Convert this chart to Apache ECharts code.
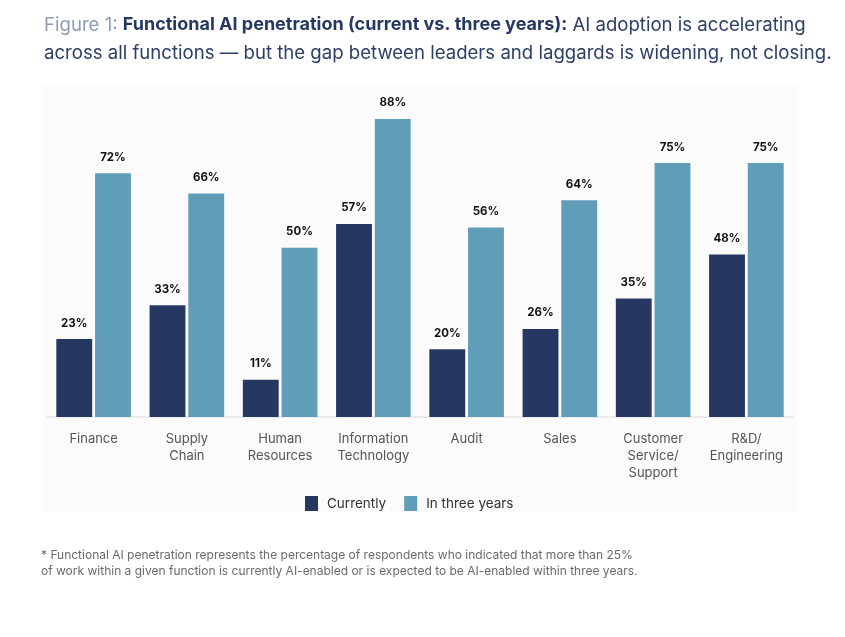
<!DOCTYPE html>
<html>
<head>
<meta charset="utf-8">
<script src="https://cdn.jsdelivr.net/npm/echarts@6/dist/echarts.min.js"></script>
<style>
  html, body { margin: 0; padding: 0; background: #fff; }
  #chart { width: 845px; height: 637px; }
</style>
</head>
<body>
<div id="chart"></div>
<script>
const categories = ['Finance', 'Supply\nChain', 'Human\nResources', 'Information\nTechnology', 'Audit', 'Sales', 'Customer\nService/\nSupport', 'R&D/\nEngineering'];
const currently = [23, 33, 11, 57, 20, 26, 35, 48];
const inThreeYears = [72, 66, 50, 88, 56, 64, 75, 75];

const myChart = echarts.init(document.getElementById('chart'));
const font = 'Inter, "Noto Sans", sans-serif';

const option = {
  backgroundColor: '#fff',
  textStyle: { fontFamily: font },
  title: {
    left: 44,
    top: 11,
    padding: 0,
    text: '{fig|Figure 1: }{bold|Functional AI penetration (current vs. three years):}{reg| AI adoption is accelerating}\n{reg|across all functions \u2014 but the gap between leaders and laggards is widening, not closing.}',
    textStyle: {
      fontWeight: 'normal',
      rich: {
        fig: { color: '#8d9db3', fontSize: 18.6, fontWeight: 'normal', fontFamily: font, lineHeight: 28 },
        bold: { color: '#263862', fontSize: 18, fontWeight: 'bold', fontFamily: font, lineHeight: 28 },
        reg: { color: '#2e4068', fontSize: 18.6, fontWeight: 'normal', fontFamily: font, lineHeight: 28 }
      }
    }
  },
  graphic: [
    {
      type: 'rect', z: -10,
      shape: { x: 43, y: 85, width: 754, height: 427 },
      style: { fill: '#fbfbfb' }
    },
    {
      type: 'text', left: 41, top: 547,
      style: {
        text: '* Functional AI penetration represents the percentage of respondents who indicated that more than 25%\nof work within a given function is currently AI-enabled or is expected to be AI-enabled within three years.',
        fill: '#6a6a6a', font: '12px ' + font, lineHeight: 16
      }
    }
  ],
  legend: {
    bottom: 121,
    left: 300,
    itemWidth: 13,
    itemHeight: 15,
    itemGap: 18,
    icon: 'rect',
    textStyle: { color: '#333', fontSize: 13.5, fontFamily: font, padding: [0, 0, 0, 4] },
    data: ['Currently', 'In three years']
  },
  grid: { left: 47, right: 52, top: 78.4, bottom: 220 },
  xAxis: {
    type: 'category',
    data: categories,
    axisTick: { show: false },
    axisLine: { lineStyle: { color: '#ebebeb', width: 2 } },
    axisLabel: { color: '#555', fontSize: 13, lineHeight: 17, margin: 14, interval: 0, fontFamily: font }
  },
  yAxis: {
    type: 'value', min: 0, max: 100,
    show: false
  },
  series: [
    {
      name: 'Currently', type: 'bar', data: currently,
      barGap: '8%', barCategoryGap: '20%',
      itemStyle: { color: '#263862' },
      label: { show: true, position: 'top', distance: 10, formatter: '{c}%', color: '#111', fontSize: 11.5, fontWeight: 'bold', fontFamily: font }
    },
    {
      name: 'In three years', type: 'bar', data: inThreeYears,
      itemStyle: { color: '#5f9db8' },
      label: { show: true, position: 'top', distance: 10, formatter: '{c}%', color: '#111', fontSize: 11.5, fontWeight: 'bold', fontFamily: font }
    }
  ]
};

option && myChart.setOption(option);
window.addEventListener('resize', function () {
  myChart.resize();
});
</script>
</body>
</html>
